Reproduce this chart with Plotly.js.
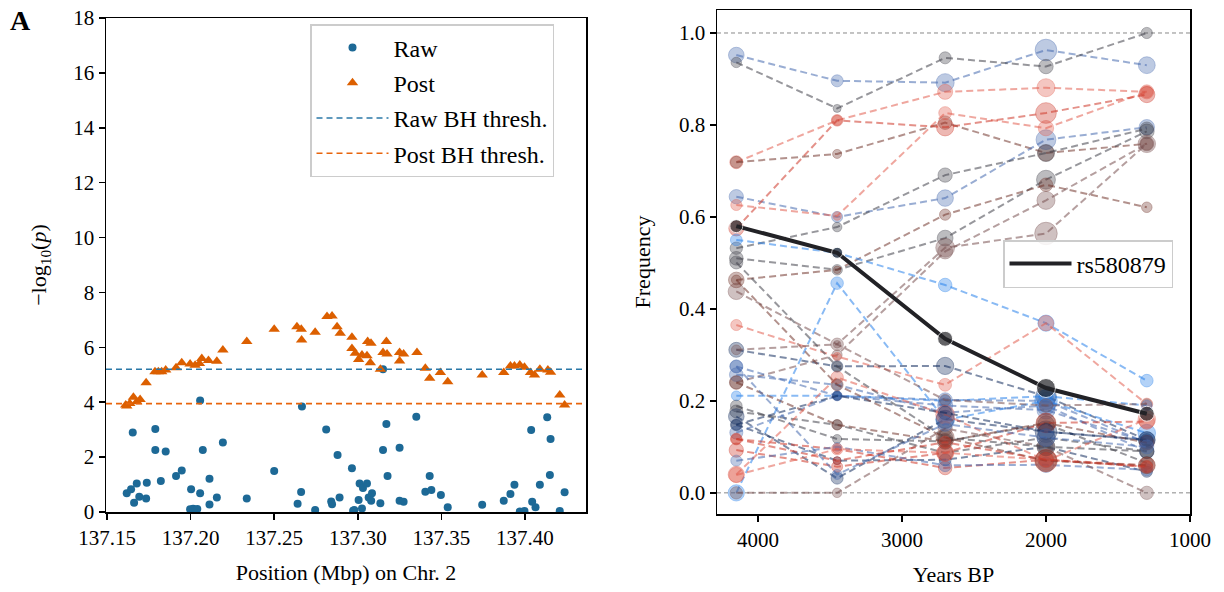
<!DOCTYPE html>
<html>
<head>
<meta charset="utf-8">
<script src="https://cdn.plot.ly/plotly-3.0.1.min.js"></script>
<style>html,body{margin:0;padding:0;background:#fff}#chart{width:1224px;height:592px}</style>
</head>
<body>
<div id="chart"></div>
<script>
// ---------- Panel A: association scan ----------
const rawPos = [137.1618,137.1644,137.1654,137.1662,137.1678,137.1693,137.1734,137.1738,137.1789,137.1789,137.1822,137.1851,137.1913,137.1947,137.1997,137.2003,137.2015,137.2027,137.2040,137.2057,137.2057,137.2073,137.2113,137.2113,137.2157,137.2193,137.2336,137.2500,137.2640,137.2661,137.2666,137.2745,137.2811,137.2841,137.2846,137.2879,137.2891,137.2965,137.2972,137.2979,137.3005,137.3011,137.3025,137.3031,137.3055,137.3065,137.3085,137.3080,137.3135,137.3151,137.3151,137.3171,137.3178,137.3250,137.3250,137.3274,137.3350,137.3404,137.3430,137.3440,137.3497,137.3538,137.3744,137.3873,137.3913,137.3937,137.3969,137.3997,137.4037,137.4043,137.4063,137.4089,137.4133,137.4149,137.4153,137.4208,137.4237];
const rawLogP = [0.68,0.83,2.90,0.34,1.04,0.56,0.49,1.07,3.02,2.26,1.13,2.20,1.31,1.51,0.10,0.83,0.12,0.08,0.11,4.06,0.68,2.26,1.21,0.27,0.53,2.53,0.49,1.49,0.30,0.73,3.84,0.07,3.01,0.38,0.28,2.08,0.53,1.59,0.05,0.07,0.44,1.04,0.13,0.87,1.04,0.53,0.68,0.41,0.32,5.20,2.26,3.21,1.31,2.34,0.41,0.37,3.47,0.74,1.31,0.80,0.62,0.17,0.26,0.41,0.66,0.99,0.02,0.04,2.99,0.37,0.17,0.99,3.45,1.35,2.66,0.04,0.72];
const postPos = [137.1612,137.1618,137.1636,137.1658,137.1678,137.1698,137.1734,137.1787,137.1807,137.1827,137.1851,137.1913,137.1947,137.1997,137.2027,137.2053,137.2067,137.2107,137.2157,137.2193,137.2336,137.2500,137.2636,137.2662,137.2664,137.2745,137.2816,137.2846,137.2876,137.2895,137.2965,137.2965,137.2985,137.3005,137.3025,137.3055,137.3059,137.3075,137.3079,137.3135,137.3151,137.3171,137.3175,137.3250,137.3250,137.3274,137.3354,137.3404,137.3430,137.3494,137.3538,137.3744,137.3873,137.3913,137.3937,137.3969,137.3997,137.4033,137.4057,137.4089,137.4137,137.4153,137.4208,137.4237];
const postLogP = [3.90,3.86,3.95,4.18,4.02,4.10,4.71,5.11,5.11,5.11,5.17,5.26,5.44,5.39,5.35,5.41,5.59,5.52,5.49,5.90,6.21,6.66,6.75,6.66,6.27,6.55,7.12,7.14,6.75,6.51,6.37,5.96,5.78,5.56,5.72,5.69,6.21,5.44,6.15,5.20,5.81,6.21,5.76,5.81,5.50,5.76,5.81,5.24,4.87,5.08,4.75,4.99,5.08,5.32,5.32,5.36,5.27,5.08,4.99,5.20,5.17,5.09,4.26,3.90];
const rawBH = 5.2;
const postBH = 3.95;
const posLimits = [137.1494, 137.4365];
const posTicks = [137.15, 137.20, 137.25, 137.30, 137.35, 137.40];

// ---------- Panel B: allele frequency trajectories ----------
const yearsBP = [4150, 3450, 2700, 2000, 1300];
const rs580879 = [0.580, 0.522, 0.335, 0.228, 0.172];
const upperSnps = [
  [0.952, 0.896, 0.892, 0.963, 0.930],
  [0.936, 0.836, 0.946, 0.927, 1.000],
  [0.719, 0.810, 0.872, 0.881, 0.872],
  [0.719, 0.737, 0.805, 0.739, 0.759],
  [0.644, 0.600, 0.641, 0.768, 0.795],
  [0.626, 0.602, 0.826, 0.793, 0.872],
  [0.575, 0.810, 0.795, 0.826, 0.866],
  [0.532, 0.578, 0.691, 0.739, 0.792],
  [0.510, 0.485, 0.554, 0.681, 0.786],
  [0.463, 0.485, 0.605, 0.670, 0.621],
  [0.438, 0.323, 0.533, 0.564, 0.759],
  [0.550, 0.522, 0.452, 0.369, 0.244],
  [0.240, 0.300, 0.525, 0.636, 0.759]
];
const upperColors = ['slate','grey','salmon','brown','slate','salmon','red','grey','grey','brown','mauve','light','mauve'];
const lowerSnps = [
  [0.365, 0.296, 0.235, 0.369, 0.193],
  [0.311, 0.275, 0.276, 0.210, 0.115],
  [0.275, 0.211, 0.202, 0.200, 0.109],
  [0.257, 0.235, 0.174, 0.190, 0.090],
  [0.211, 0.211, 0.200, 0.210, 0.190],
  [0.000, 0.456, 0.159, 0.200, 0.130],
  [0.189, 0.117, 0.112, 0.150, 0.065],
  [0.177, 0.148, 0.087, 0.120, 0.090],
  [0.166, 0.032, 0.160, 0.133, 0.115],
  [0.148, 0.070, 0.072, 0.100, 0.046],
  [0.131, 0.211, 0.190, 0.180, 0.110],
  [0.117, 0.095, 0.054, 0.072, 0.057],
  [0.093, 0.057, 0.087, 0.152, 0.155],
  [0.070, 0.100, 0.060, 0.061, 0.050],
  [0.039, 0.095, 0.087, 0.072, 0.060],
  [0.000, 0.000, 0.140, 0.100, 0.000],
  [0.240, 0.148, 0.112, 0.152, 0.109],
  [0.311, 0.323, 0.202, 0.190, 0.193],
  [0.040, 0.251, 0.170, 0.070, 0.160],
  [0.148, 0.211, 0.174, 0.133, 0.115],
  [0.501, 0.275, 0.120, 0.100, 0.090],
  [0.463, 0.235, 0.120, 0.070, 0.060],
  [0.117, 0.070, 0.110, 0.072, 0.057],
  [0.275, 0.040, 0.150, 0.120, 0.100]
];
const lowerColors = ['salmon','navy','slate','slate','light','light','grey','grey','navy','navy','slate','red','red','slate','salmon','mauve','brown','mauve','salmon','navy','grey','brown','red','slate'];

// ---------- styles ----------
const FONT = 'Liberation Serif, Times New Roman, serif';
const rgb = {
  slate: '70,105,175', light: '40,130,235', navy: '20,45,95', grey: '65,65,75',
  brown: '115,55,45', red: '205,55,40', salmon: '225,95,80', mauve: '120,80,80'
};
const columnSize = [13, 10, 15, 18, 14];
const sizeScale = [1.2, 0.8, 1.0, 0.9, 1.1, 0.85, 1.15, 0.95, 1.05, 0.75, 1.25, 0.9, 1.0];

const traces = [];
traces.push({x: rawPos, y: rawLogP, type: 'scatter', mode: 'markers', name: 'Raw',
  marker: {color: '#1d6996', size: 8}, xaxis: 'x', yaxis: 'y', legendgroup: 'a', legend: 'legend'});
traces.push({x: postPos, y: postLogP, type: 'scatter', mode: 'markers', name: 'Post',
  marker: {color: '#dc5f00', size: 10, symbol: 'triangle-up'}, xaxis: 'x', yaxis: 'y', legendgroup: 'b', legend: 'legend'});
traces.push({x: posLimits, y: [rawBH, rawBH], type: 'scatter', mode: 'lines', name: 'Raw BH thresh.',
  line: {color: '#2a78a8', width: 1.6, dash: '6px,4px'}, xaxis: 'x', yaxis: 'y', legendgroup: 'c', legend: 'legend'});
traces.push({x: posLimits, y: [postBH, postBH], type: 'scatter', mode: 'lines', name: 'Post BH thresh.',
  line: {color: '#e8640c', width: 1.6, dash: '6px,4px'}, xaxis: 'x', yaxis: 'y', legendgroup: 'd', legend: 'legend'});

function addSnp(vals, key, i) {
  const s = sizeScale[i % sizeScale.length];
  traces.push({x: yearsBP, y: vals, type: 'scatter', mode: 'lines+markers', showlegend: false,
    xaxis: 'x2', yaxis: 'y2', hoverinfo: 'skip',
    line: {color: 'rgba(' + rgb[key] + ',0.55)', width: 2, dash: '7px,4px'},
    marker: {color: 'rgba(' + rgb[key] + ',0.5)', size: columnSize.map(c => c * s)}});
}
upperSnps.forEach((v, i) => addSnp(v, upperColors[i], i));
lowerSnps.forEach((v, i) => addSnp(v, lowerColors[i], i + 5));

traces.push({x: yearsBP, y: rs580879, type: 'scatter', mode: 'lines+markers', name: 'rs580879',
  xaxis: 'x2', yaxis: 'y2', showlegend: false,
  line: {color: '#222226', width: 4}, marker: {color: '#222226', size: [13, 11, 15, 19, 15]}});
// legend entry (line only) for the highlighted SNP
traces.push({x: [null], y: [null], type: 'scatter', mode: 'lines', name: 'rs580879',
  xaxis: 'x2', yaxis: 'y2', legend: 'legend2', line: {color: '#222226', width: 4}});

const axisCommon = {
  showline: true, mirror: true, linecolor: '#000', linewidth: 1.5,
  ticks: 'outside', ticklen: 6, tickwidth: 1.5, tickcolor: '#000',
  showgrid: false, zeroline: false,
  tickfont: {family: FONT, size: 21, color: '#000'}
};

const layout = {
  width: 1224, height: 592,
  margin: {l: 0, r: 0, t: 0, b: 0},
  paper_bgcolor: '#fff', plot_bgcolor: '#fff',
  font: {family: FONT, size: 21, color: '#000'},
  xaxis: Object.assign({}, axisCommon, {
    domain: [106/1224, 586/1224], anchor: 'y', range: posLimits,
    tickvals: posTicks, tickformat: '.2f',
    title: {text: 'Position (Mbp) on Chr. 2', font: {family: FONT, size: 22}, standoff: 16}
  }),
  yaxis: Object.assign({}, axisCommon, {
    domain: [(592-512)/592, (592-18)/592], anchor: 'x', range: [0, 18], dtick: 2,
    title: {text: '−log<sub>10</sub>(<i>p</i>)', font: {family: FONT, size: 22}, standoff: 20}
  }),
  xaxis2: Object.assign({}, axisCommon, {
    domain: [717/1224, 1190/1224], anchor: 'y2', range: [4284, 1000],
    tickvals: [4000, 3000, 2000, 1000],
    title: {text: 'Years BP', font: {family: FONT, size: 22}, standoff: 16}
  }),
  yaxis2: Object.assign({}, axisCommon, {
    domain: [(592-514)/592, (592-10)/592], anchor: 'x2', range: [-0.046, 1.05],
    tickvals: [0, 0.2, 0.4, 0.6, 0.8, 1.0], tickformat: '.1f',
    title: {text: 'Frequency', font: {family: FONT, size: 22}, standoff: 22}
  }),
  shapes: [0, 1].map(v => ({type: 'line', xref: 'x2 domain', x0: 0, x1: 1, yref: 'y2', y0: v, y1: v,
    line: {color: '#888', width: 1, dash: '4px,3px'}, layer: 'below'})),
  legend: {x: 310/1224, y: 1 - 24/592, xanchor: 'left', yanchor: 'top',
    bgcolor: 'rgba(255,255,255,0.85)', bordercolor: '#cccccc', borderwidth: 1.5,
    font: {family: FONT, size: 24}, tracegroupgap: 1, itemwidth: 72},
  legend2: {x: 1003/1224, y: 1 - 240/592, xanchor: 'left', yanchor: 'top',
    bgcolor: 'rgba(255,255,255,0.85)', bordercolor: '#cccccc', borderwidth: 1.5,
    font: {family: FONT, size: 24}, itemwidth: 62},
  annotations: [{text: '<b>A</b>', xref: 'paper', yref: 'paper', x: 8/1224, y: 1 - 3/592,
    xanchor: 'left', yanchor: 'top', showarrow: false, font: {family: FONT, size: 28, color: '#000'}}]
};

Plotly.newPlot('chart', traces, layout, {staticPlot: true, displayModeBar: false});
</script>
</body>
</html>
